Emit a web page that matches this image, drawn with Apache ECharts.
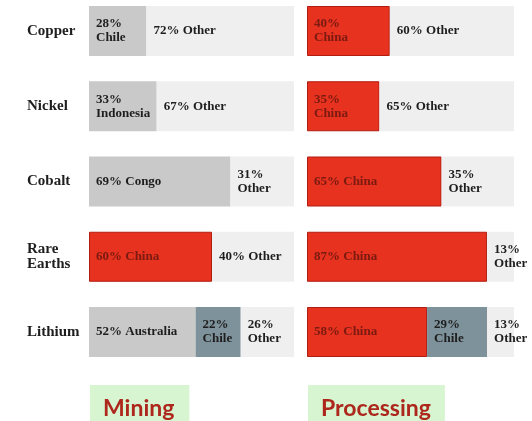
<!DOCTYPE html>
<html>
<head>
<meta charset="utf-8">
<script src="https://cdn.jsdelivr.net/npm/echarts@6/dist/echarts.min.js"></script>
<style>
  html, body { margin: 0; padding: 0; background: #ffffff; }
  #chart { width: 532px; height: 421px; }
</style>
</head>
<body>
<div id="chart"></div>
<script>
// Minerals, top to bottom
const minerals = ['Copper', 'Nickel', 'Cobalt', 'Rare\nEarths', 'Lithium'];

// Mining: leading country share, second country share, rest of world
const miningLeadCountry = ['Chile', 'Indonesia', 'Congo', 'China', 'Australia'];
const miningLead = [28, 33, 69, 60, 52];
const miningSecondCountry = ['', '', '', '', 'Chile'];
const miningSecond = [0, 0, 0, 0, 22];
const miningOther = [72, 67, 31, 40, 26];

// Processing: China share, Chile share, rest of world
const processingChina = [40, 35, 65, 87, 58];
const processingChile = [0, 0, 0, 0, 29];
const processingOther = [60, 65, 35, 13, 13];

// Labels that wrap the country name onto a second line
const miningLeadWrap = [true, true, false, false, false];
const miningOtherWrap = [false, false, true, false, true];
const processingChinaWrap = [true, true, false, false, false];
const processingOtherWrap = [false, false, true, true, true];

const RED = '#e6321f';
const RED_EDGE = '#b21d12';
const GREY = '#c9c9c9';
const LIGHT = '#efefef';
const SLATE = '#7e929b';

const labelFont = {
  fontFamily: '"Liberation Serif", "DejaVu Serif", serif',
  fontWeight: 'bold',
  fontSize: 13,
  lineHeight: 14
};

function segLabel(country, wrap, color) {
  return {
    show: true,
    position: 'insideLeft',
    distance: 7,
    overflow: 'none',
    color: color,
    ...labelFont,
    formatter: p => {
      if (!p.value) return '';
      const name = typeof country === 'string' ? country : country[p.dataIndex];
      return p.value + '%' + (wrap[p.dataIndex] ? '\n' : ' ') + name;
    }
  };
}

function leadItem(v, i) {
  const isChina = miningLeadCountry[i] === 'China';
  return {
    value: v,
    itemStyle: isChina
      ? { color: RED, borderColor: RED_EDGE, borderWidth: 1 }
      : { color: GREY },
    label: { color: isChina ? '#7a1a10' : '#1e1e1e' }
  };
}

const chart = echarts.init(document.getElementById('chart'), null, { renderer: 'canvas' });

// Row centres sit on the category ticks (no boundary gap)
const gridTop = 31;
const gridHeight = 301;

const titleStyle = {
  fontFamily: 'Lato, "Open Sans", sans-serif',
  fontWeight: 'bold', fontSize: 23, color: '#ad271c'
};

chart.setOption({
  animation: false,
  backgroundColor: '#ffffff',
  title: [
    {
      text: 'Mining', left: 90, top: 385,
      backgroundColor: '#d6f5d0',
      padding: [12, 15, 10, 13],
      textStyle: titleStyle
    },
    {
      text: 'Processing', left: 308, top: 385,
      backgroundColor: '#d6f5d0',
      padding: [12, 14, 10, 13],
      textStyle: titleStyle
    }
  ],
  grid: [
    { left: 89, width: 205, top: gridTop, height: gridHeight },
    { left: 307, width: 207, top: gridTop, height: gridHeight }
  ],
  xAxis: [
    { gridIndex: 0, type: 'value', min: 0, max: 100, show: false },
    { gridIndex: 1, type: 'value', min: 0, max: 100, show: false }
  ],
  yAxis: [
    {
      gridIndex: 0, type: 'category', data: minerals, inverse: true, boundaryGap: false,
      axisLine: { show: false }, axisTick: { show: false }, splitLine: { show: false },
      axisLabel: {
        align: 'left', margin: 62, color: '#1e1e1e',
        fontFamily: '"Liberation Serif", "DejaVu Serif", serif',
        fontWeight: 'bold', fontSize: 15, lineHeight: 15
      }
    },
    {
      gridIndex: 1, type: 'category', data: minerals, inverse: true, boundaryGap: false, show: false
    }
  ],
  series: [
    {
      name: 'Mining lead', type: 'bar', stack: 'mining', xAxisIndex: 0, yAxisIndex: 0,
      barWidth: 50,
      data: miningLead.map(leadItem),
      label: segLabel(miningLeadCountry, miningLeadWrap, '#1e1e1e')
    },
    {
      name: 'Mining second', type: 'bar', stack: 'mining', xAxisIndex: 0, yAxisIndex: 0,
      barWidth: 50,
      itemStyle: { color: SLATE },
      data: miningSecond,
      label: segLabel(miningSecondCountry, [true, true, true, true, true], '#1e1e1e')
    },
    {
      name: 'Mining other', type: 'bar', stack: 'mining', xAxisIndex: 0, yAxisIndex: 0,
      barWidth: 50,
      itemStyle: { color: LIGHT },
      data: miningOther,
      label: segLabel('Other', miningOtherWrap, '#1e1e1e')
    },
    {
      name: 'Processing China', type: 'bar', stack: 'processing', xAxisIndex: 1, yAxisIndex: 1,
      barWidth: 50,
      itemStyle: { color: RED, borderColor: RED_EDGE, borderWidth: 1 },
      data: processingChina,
      label: segLabel('China', processingChinaWrap, '#7a1a10')
    },
    {
      name: 'Processing Chile', type: 'bar', stack: 'processing', xAxisIndex: 1, yAxisIndex: 1,
      barWidth: 50,
      itemStyle: { color: SLATE },
      data: processingChile,
      label: segLabel('Chile', [true, true, true, true, true], '#1e1e1e')
    },
    {
      name: 'Processing other', type: 'bar', stack: 'processing', xAxisIndex: 1, yAxisIndex: 1,
      barWidth: 50,
      itemStyle: { color: LIGHT },
      data: processingOther,
      label: segLabel('Other', processingOtherWrap, '#1e1e1e')
    }
  ]
});
</script>
</body>
</html>
